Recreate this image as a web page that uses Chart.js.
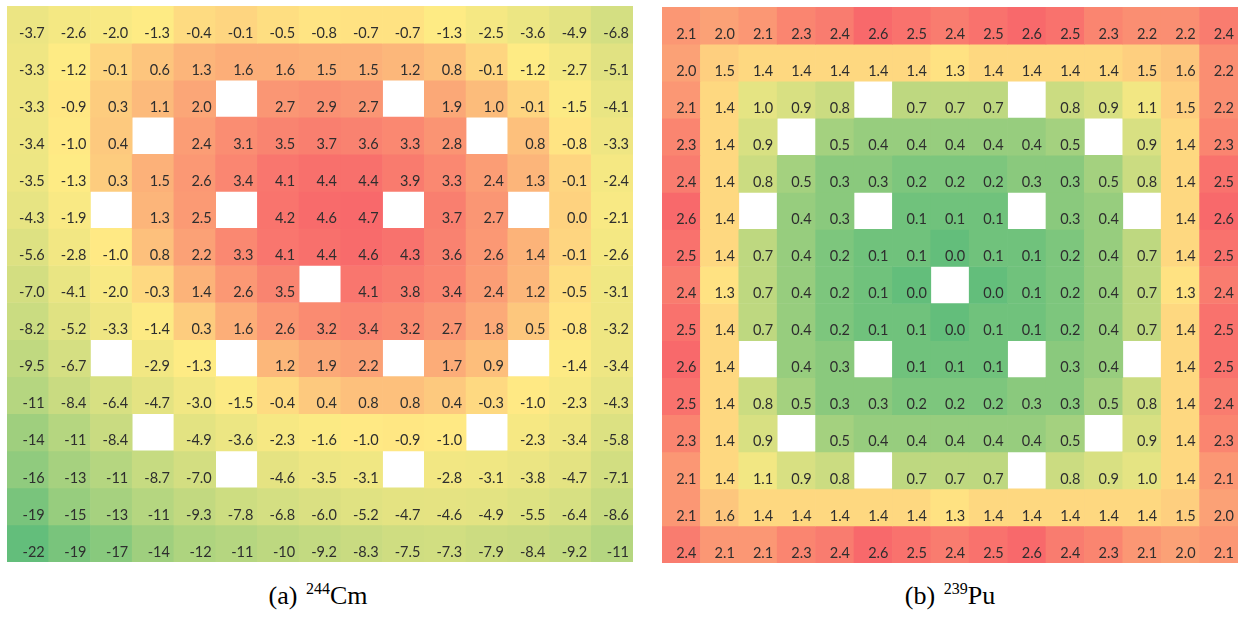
<!DOCTYPE html>
<html>
<head>
<meta charset="utf-8">
<title>Cm-244 and Pu-239 pin-wise maps</title>
<script src="https://cdn.jsdelivr.net/npm/chart.js@4.4.1/dist/chart.umd.min.js"></script>
<style>
  html, body { margin: 0; padding: 0; background: #ffffff; }
  body { width: 1242px; height: 618px; position: relative; overflow: hidden; }
  .map { position: absolute; }
  #mapCm { left: 7px; top: 6px; width: 626px; height: 556px; }
  #mapPu { left: 662px; top: 7px; width: 576px; height: 556px; }
  .cap {
    position: absolute; top: 581px; transform: translateX(-50%);
    font-family: "Liberation Serif", "Times New Roman", serif;
    font-size: 26px; line-height: 30px; color: #000; white-space: nowrap;
  }
  .cap .iso { font-size: 16px; position: relative; top: -10px; margin-left: 2px; }
</style>
</head>
<body>
<div class="map" id="mapCm"><canvas id="cm"></canvas></div>
<div class="map" id="mapPu"><canvas id="pu"></canvas></div>
<div class="cap" style="left:318px">(a) <span class="iso">244</span>Cm</div>
<div class="cap" style="left:950px">(b) <span class="iso">239</span>Pu</div>

<script>
// 15 x 15 pin lattice; null = guide-tube / instrument positions (no pin)
const columns = ['1','2','3','4','5','6','7','8','9','10','11','12','13','14','15'];

const cm244 = [
  [-3.7, -2.6, -2.0, -1.3, -0.4, -0.1, -0.5, -0.8, -0.7, -0.7, -1.3, -2.5, -3.6, -4.9, -6.8],
  [-3.3, -1.2, -0.1,  0.6,  1.3,  1.6,  1.6,  1.5,  1.5,  1.2,  0.8, -0.1, -1.2, -2.7, -5.1],
  [-3.3, -0.9,  0.3,  1.1,  2.0, null,  2.7,  2.9,  2.7, null,  1.9,  1.0, -0.1, -1.5, -4.1],
  [-3.4, -1.0,  0.4, null,  2.4,  3.1,  3.5,  3.7,  3.6,  3.3,  2.8, null,  0.8, -0.8, -3.3],
  [-3.5, -1.3,  0.3,  1.5,  2.6,  3.4,  4.1,  4.4,  4.4,  3.9,  3.3,  2.4,  1.3, -0.1, -2.4],
  [-4.3, -1.9, null,  1.3,  2.5, null,  4.2,  4.6,  4.7, null,  3.7,  2.7, null,  0.0, -2.1],
  [-5.6, -2.8, -1.0,  0.8,  2.2,  3.3,  4.1,  4.4,  4.6,  4.3,  3.6,  2.6,  1.4, -0.1, -2.6],
  [-7.0, -4.1, -2.0, -0.3,  1.4,  2.6,  3.5, null,  4.1,  3.8,  3.4,  2.4,  1.2, -0.5, -3.1],
  [-8.2, -5.2, -3.3, -1.4,  0.3,  1.6,  2.6,  3.2,  3.4,  3.2,  2.7,  1.8,  0.5, -0.8, -3.2],
  [-9.5, -6.7, null, -2.9, -1.3, null,  1.2,  1.9,  2.2, null,  1.7,  0.9, null, -1.4, -3.4],
  [-11,  -8.4, -6.4, -4.7, -3.0, -1.5, -0.4,  0.4,  0.8,  0.8,  0.4, -0.3, -1.0, -2.3, -4.3],
  [-14,  -11,  -8.4, null, -4.9, -3.6, -2.3, -1.6, -1.0, -0.9, -1.0, null, -2.3, -3.4, -5.8],
  [-16,  -13,  -11,  -8.7, -7.0, null, -4.6, -3.5, -3.1, null, -2.8, -3.1, -3.8, -4.7, -7.1],
  [-19,  -15,  -13,  -11,  -9.3, -7.8, -6.8, -6.0, -5.2, -4.7, -4.6, -4.9, -5.5, -6.4, -8.6],
  [-22,  -19,  -17,  -14,  -12,  -11,  -10,  -9.2, -8.3, -7.5, -7.3, -7.9, -8.4, -9.2, -11]
];

const pu239 = [
  [2.1, 2.0, 2.1, 2.3, 2.4, 2.6, 2.5, 2.4, 2.5, 2.6, 2.5, 2.3, 2.2, 2.2, 2.4],
  [2.0, 1.5, 1.4, 1.4, 1.4, 1.4, 1.4, 1.3, 1.4, 1.4, 1.4, 1.4, 1.5, 1.6, 2.2],
  [2.1, 1.4, 1.0, 0.9, 0.8, null, 0.7, 0.7, 0.7, null, 0.8, 0.9, 1.1, 1.5, 2.2],
  [2.3, 1.4, 0.9, null, 0.5, 0.4, 0.4, 0.4, 0.4, 0.4, 0.5, null, 0.9, 1.4, 2.3],
  [2.4, 1.4, 0.8, 0.5, 0.3, 0.3, 0.2, 0.2, 0.2, 0.3, 0.3, 0.5, 0.8, 1.4, 2.5],
  [2.6, 1.4, null, 0.4, 0.3, null, 0.1, 0.1, 0.1, null, 0.3, 0.4, null, 1.4, 2.6],
  [2.5, 1.4, 0.7, 0.4, 0.2, 0.1, 0.1, 0.0, 0.1, 0.1, 0.2, 0.4, 0.7, 1.4, 2.5],
  [2.4, 1.3, 0.7, 0.4, 0.2, 0.1, 0.0, null, 0.0, 0.1, 0.2, 0.4, 0.7, 1.3, 2.4],
  [2.5, 1.4, 0.7, 0.4, 0.2, 0.1, 0.1, 0.0, 0.1, 0.1, 0.2, 0.4, 0.7, 1.4, 2.5],
  [2.6, 1.4, null, 0.4, 0.3, null, 0.1, 0.1, 0.1, null, 0.3, 0.4, null, 1.4, 2.5],
  [2.5, 1.4, 0.8, 0.5, 0.3, 0.3, 0.2, 0.2, 0.2, 0.3, 0.3, 0.5, 0.8, 1.4, 2.4],
  [2.3, 1.4, 0.9, null, 0.5, 0.4, 0.4, 0.4, 0.4, 0.4, 0.5, null, 0.9, 1.4, 2.3],
  [2.1, 1.4, 1.1, 0.9, 0.8, null, 0.7, 0.7, 0.7, null, 0.8, 0.9, 1.0, 1.4, 2.1],
  [2.1, 1.6, 1.4, 1.4, 1.4, 1.4, 1.4, 1.3, 1.4, 1.4, 1.4, 1.4, 1.4, 1.5, 2.0],
  [2.4, 2.1, 2.1, 2.3, 2.4, 2.6, 2.5, 2.4, 2.5, 2.6, 2.4, 2.3, 2.1, 2.0, 2.1]
];

// three-colour scale: low = green, 50th percentile = yellow, high = red
const LOW = [99, 190, 123], MID = [255, 235, 132], HIGH = [248, 105, 107];

function percentile(sorted, p) {
  const rank = p * (sorted.length - 1);
  const lo = Math.floor(rank), hi = Math.ceil(rank);
  return sorted[lo] + (sorted[hi] - sorted[lo]) * (rank - lo);
}

function makeScale(grid) {
  const vals = grid.flat().filter(v => v !== null).sort((a, b) => a - b);
  const min = vals[0], max = vals[vals.length - 1], mid = percentile(vals, 0.5);
  const mix = (a, b, t) => a.map((x, i) => Math.round(x + (b[i] - x) * t));
  return v => {
    let c;
    if (v <= mid) c = mix(LOW, MID, mid === min ? 1 : (v - min) / (mid - min));
    else c = mix(MID, HIGH, (v - mid) / (max - mid));
    return `rgb(${c[0]},${c[1]},${c[2]})`;
  };
}

function fmt(v) {
  return Math.abs(v) >= 10 ? v.toFixed(0) : v.toFixed(1);
}

// writes each pin's value in its cell, right-aligned near the lower edge
const cellLabels = {
  id: 'cellLabels',
  afterDatasetsDraw(chart, args, opts) {
    const ctx = chart.ctx;
    ctx.save();
    ctx.font = opts.font;
    ctx.fillStyle = opts.color;
    ctx.textAlign = 'right';
    ctx.textBaseline = 'middle';
    chart.data.datasets.forEach((ds, r) => {
      const meta = chart.getDatasetMeta(r);
      meta.data.forEach((bar, c) => {
        const v = ds.values[c];
        if (v === null || v === undefined) return;
        const right = bar.x + bar.width / 2;
        const bottom = Math.max(bar.y, bar.base);
        ctx.fillText(fmt(v), right - opts.padRight, bottom - opts.padBottom);
      });
    });
    ctx.restore();
  }
};

function buildMap(canvasId, grid) {
  const colour = makeScale(grid);
  const datasets = grid.map((row, r) => ({
    label: 'row ' + (r + 1),
    values: row,
    data: row.map(v => (v === null ? null : [r, r + 1])),
    backgroundColor: row.map(v => (v === null ? 'rgba(0,0,0,0)' : colour(v))),
    borderWidth: 0,
    barPercentage: 1,
    categoryPercentage: 1,
    grouped: false
  }));
  return new Chart(document.getElementById(canvasId), {
    type: 'bar',
    data: { labels: columns, datasets },
    options: {
      responsive: true,
      maintainAspectRatio: false,
      animation: false,
      events: [],
      layout: { padding: 0 },
      scales: {
        x: { display: false, offset: true },
        y: { display: false, min: 0, max: 15, reverse: true }
      },
      plugins: {
        legend: { display: false },
        tooltip: { enabled: false },
        cellLabels: {
          font: '14.5px Lato, "Open Sans", sans-serif',
          color: '#2e2e2e',
          padRight: 4,
          padBottom: 10
        }
      }
    },
    plugins: [cellLabels]
  });
}

buildMap('cm', cm244);
buildMap('pu', pu239);
</script>
</body>
</html>
